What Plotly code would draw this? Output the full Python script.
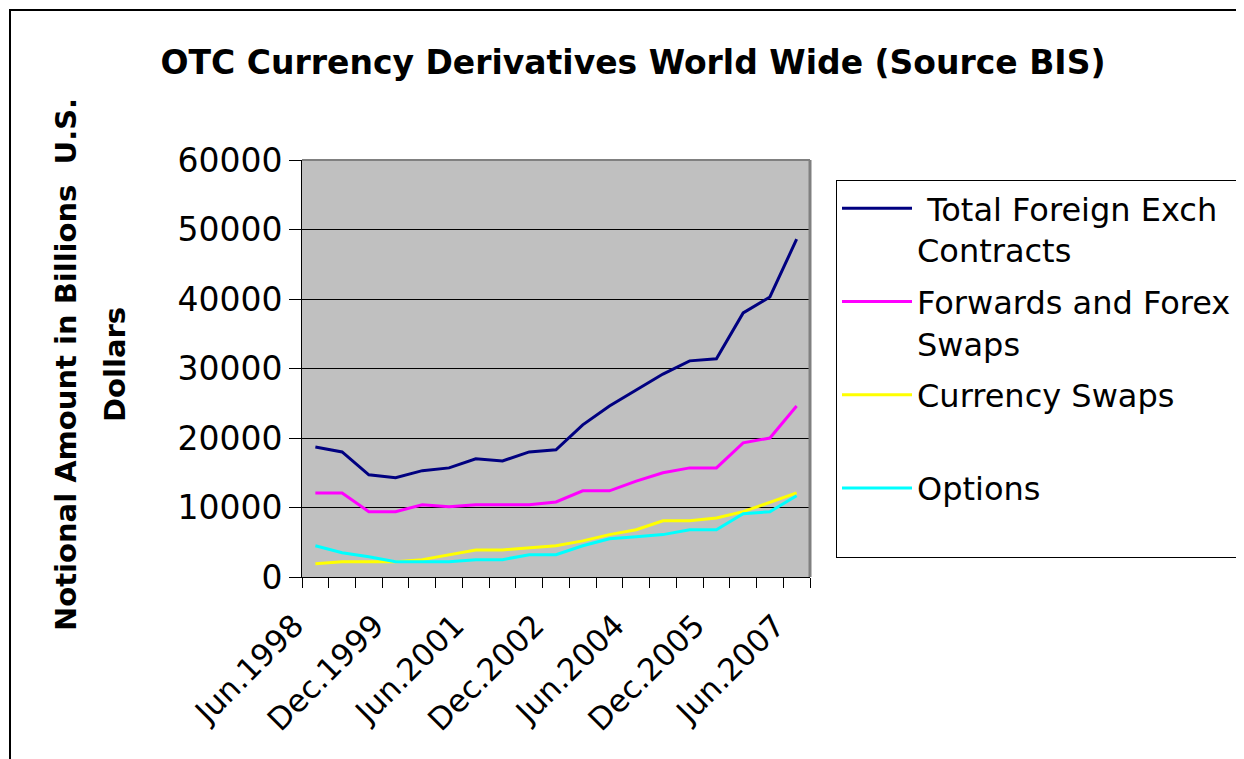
import plotly.graph_objects as go

# ---- data ----
periods = ["Jun.1998", "Dec.1998", "Jun.1999", "Dec.1999", "Jun.2000", "Dec.2000",
           "Jun.2001", "Dec.2001", "Jun.2002", "Dec.2002", "Jun.2003", "Dec.2003",
           "Jun.2004", "Dec.2004", "Jun.2005", "Dec.2005", "Jun.2006", "Dec.2006",
           "Jun.2007"]
total_fx = [18700, 18000, 14700, 14300, 15300, 15700, 17000, 16700, 18000, 18300,
            21900, 24600, 26900, 29200, 31100, 31400, 38000, 40300, 48600]
forwards_swaps = [12100, 12100, 9400, 9400, 10400, 10100, 10400, 10400, 10400, 10800,
                  12400, 12400, 13800, 15000, 15700, 15700, 19300, 20000, 24600]
currency_swaps = [1900, 2200, 2200, 2200, 2500, 3200, 3900, 3900, 4200, 4500,
                  5200, 6100, 6800, 8100, 8100, 8500, 9400, 10800, 12100]
options = [4500, 3500, 2900, 2200, 2200, 2200, 2500, 2500, 3200, 3200,
           4500, 5500, 5800, 6100, 6800, 6800, 9100, 9400, 11700]

series_names = [" Total Foreign Exch<br>Contracts", "Forwards and Forex<br>Swaps",
                "Currency Swaps<br> ", "Options<br> "]
series_values = [total_fx, forwards_swaps, currency_swaps, options]
series_colors = ["#000080", "#FF00FF", "#FFFF00", "#00FFFF"]
label_step = 3

# ---- layout geometry (screen pixels; page body adds an 8px offset) ----
OFF = 8
W, H = 1244, 759
L, R, T, B = 302 - OFF, 810 - OFF, 160 - OFF, 577 - OFF
pw, ph = R - L, B - T

def px_x(sx):
    return (sx - OFF - L) / pw

def px_y(sy):
    return (B - (sy - OFF)) / ph

FONT = "DejaVu Sans"
idx = list(range(len(periods)))
NB = "\u00a0"

fig = go.Figure()
for i, (name, vals, col) in enumerate(zip(series_names, series_values, series_colors)):
    fig.add_trace(go.Scatter(
        x=idx, y=vals, mode="lines", name=name,
        line=dict(color=col, width=3),
        legendgroup=f"g{i}",
    ))

tickvals = idx[::label_step]
ticktext = [periods[i] + NB * 3 for i in tickvals]

fig.update_layout(
    width=W, height=H,
    margin=dict(l=L, r=W - R, t=T, b=H - B, autoexpand=False),
    paper_bgcolor="white",
    plot_bgcolor="#C0C0C0",
    font=dict(family=FONT, color="black"),
    title=dict(
        text="<b>OTC Currency Derivatives World Wide (Source BIS)</b>",
        font=dict(family=FONT, size=33, color="black"),
        x=(633 - OFF) / W, xref="container", xanchor="center",
        y=1 - (62 - OFF) / H, yref="container", yanchor="middle",
    ),
    xaxis=dict(
        range=[-0.5, len(periods) - 0.5],
        tickmode="array", tickvals=tickvals, ticktext=ticktext,
        tickangle=-45, ticks="",
        tickfont=dict(family=FONT, size=31, color="black"),
        showgrid=False, zeroline=False,
        showline=True, linecolor="black", linewidth=1,
        minor=dict(tick0=-0.5, dtick=1, ticks="outside", ticklen=10,
                   tickcolor="black", tickwidth=1, showgrid=False),
        ticklabelstandoff=-4,
    ),
    yaxis=dict(
        range=[0, 60000], dtick=10000, tick0=0, tickformat="d",
        ticks="outside", ticklen=12, tickcolor="black", tickwidth=1,
        tickfont=dict(family=FONT, size=33, color="black"),
        showgrid=True, gridcolor="black", gridwidth=1,
        zeroline=False,
        showline=True, linecolor="black", linewidth=1,
        ticklabelstandoff=0,
    ),
    showlegend=True,
    legend=dict(
        x=px_x(836), y=px_y(180), xanchor="left", yanchor="top",
        bgcolor="white", bordercolor="black", borderwidth=1,
        font=dict(family=FONT, size=32, color="black"),
        valign="top", traceorder="grouped", tracegroupgap=7,
        itemwidth=70,
    ),
    shapes=[
        # outer chart frame (extends beyond the visible page)
        dict(type="rect", xref="paper", yref="paper",
             x0=px_x(10), x1=px_x(1300), y0=px_y(820), y1=px_y(10),
             line=dict(color="black", width=2), fillcolor="rgba(0,0,0,0)", layer="above"),
        # grey top and right edges of plot area
        dict(type="line", xref="paper", yref="paper", x0=0, x1=1, y0=1, y1=1,
             line=dict(color="#808080", width=2), layer="above"),
        dict(type="line", xref="paper", yref="paper", x0=1, x1=1, y0=0, y1=1,
             line=dict(color="#808080", width=3), layer="above"),
    ],
    annotations=[
        dict(text="<b>Notional Amount in Billions  U.S.</b>", xref="paper", yref="paper",
             x=px_x(66), y=px_y(365), xanchor="center", yanchor="middle",
             textangle=-90, showarrow=False, font=dict(family=FONT, size=29, color="black")),
        dict(text="<b>Dollars</b>", xref="paper", yref="paper",
             x=px_x(115), y=px_y(365), xanchor="center", yanchor="middle",
             textangle=-90, showarrow=False, font=dict(family=FONT, size=29, color="black")),
    ],
)

fig.write_html("out.html")
